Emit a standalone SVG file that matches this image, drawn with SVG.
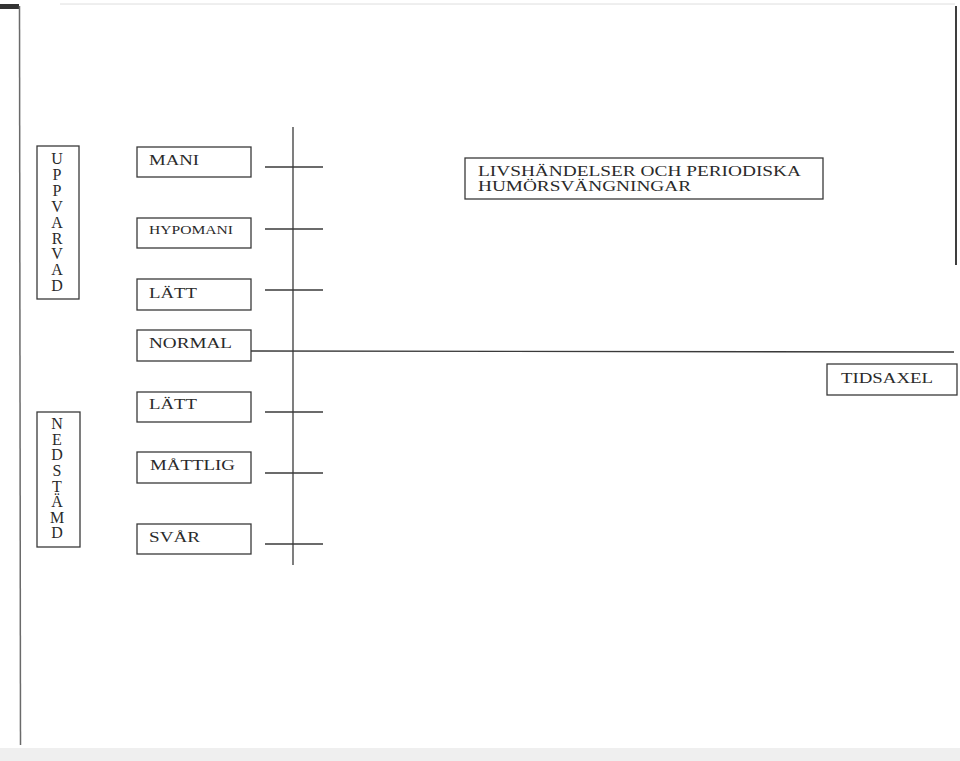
<svg xmlns="http://www.w3.org/2000/svg" width="960" height="761" viewBox="0 0 960 761">
<style>
.box{fill:#fff;stroke:#3a3a3a;stroke-width:1.3}
.ln{stroke:#3a3a3a;stroke-width:1.3;fill:none}
.t{font-family:"Liberation Serif","Times New Roman",serif;fill:#2a2a2a;font-size:15px}
.s{font-size:12.5px}
.v{text-anchor:middle;font-size:16px}
</style>
<rect width="960" height="761" fill="#fff"/>
<g id="page">
<rect x="0" y="748" width="960" height="13" fill="#efefef"/>
<rect x="0" y="4" width="19" height="5" fill="#333"/>
<line x1="60" y1="4" x2="955" y2="4" stroke="#dedede" stroke-width="1"/>
<line x1="19.5" y1="6" x2="20.5" y2="745" stroke="#6a6a6a" stroke-width="1.5"/>
<line x1="956" y1="6" x2="956" y2="265" stroke="#2a2a2a" stroke-width="1.8"/>
</g>
<g id="connectors">
<line class="ln" x1="293" y1="127" x2="293" y2="565"/>
<line class="ln" x1="265" y1="167" x2="323" y2="167"/>
<line class="ln" x1="265" y1="229" x2="323" y2="229"/>
<line class="ln" x1="265" y1="290" x2="323" y2="290"/>
<line class="ln" x1="251" y1="351" x2="954" y2="352"/>
<line class="ln" x1="265" y1="412" x2="323" y2="412"/>
<line class="ln" x1="265" y1="473" x2="323" y2="473"/>
<line class="ln" x1="265" y1="544" x2="323" y2="544"/>
</g>
<g id="uppvarvad">
<rect class="box" x="37" y="146" width="42" height="153"/>
<text class="t v" x="57" y="164">U</text>
<text class="t v" x="57" y="180">P</text>
<text class="t v" x="57" y="196">P</text>
<text class="t v" x="57" y="212">V</text>
<text class="t v" x="57" y="227.5">A</text>
<text class="t v" x="57" y="243.5">R</text>
<text class="t v" x="57" y="259">V</text>
<text class="t v" x="57" y="275">A</text>
<text class="t v" x="57" y="291">D</text>
</g>
<g id="nedstamd">
<rect class="box" x="37" y="412" width="43" height="135"/>
<text class="t v" x="57" y="429">N</text>
<text class="t v" x="57" y="444.5">E</text>
<text class="t v" x="57" y="460">D</text>
<text class="t v" x="57" y="476">S</text>
<text class="t v" x="57" y="491.5">T</text>
<text class="t v" x="57" y="507">Ä</text>
<text class="t v" x="57" y="522.5">M</text>
<text class="t v" x="57" y="538">D</text>
</g>
<g id="mani">
<rect class="box" x="137" y="147" width="114" height="30"/>
<text class="t" x="149" y="165" textLength="50" lengthAdjust="spacingAndGlyphs">MANI</text>
</g>
<g id="hypomani">
<rect class="box" x="137" y="218" width="114" height="30"/>
<text class="t s" x="149" y="234" textLength="84" lengthAdjust="spacingAndGlyphs">HYPOMANI</text>
</g>
<g id="latt-upp">
<rect class="box" x="137" y="279" width="114" height="31"/>
<text class="t" x="149" y="298" textLength="48" lengthAdjust="spacingAndGlyphs">LÄTT</text>
</g>
<g id="normal">
<rect class="box" x="137" y="330" width="114" height="31"/>
<text class="t" x="149" y="348" textLength="83" lengthAdjust="spacingAndGlyphs">NORMAL</text>
</g>
<g id="latt-ned">
<rect class="box" x="137" y="392" width="114" height="30"/>
<text class="t" x="149" y="409" textLength="48" lengthAdjust="spacingAndGlyphs">LÄTT</text>
</g>
<g id="mattlig">
<rect class="box" x="137" y="452" width="114" height="31"/>
<text class="t" x="150" y="470" textLength="85" lengthAdjust="spacingAndGlyphs">MÅTTLIG</text>
</g>
<g id="svar">
<rect class="box" x="137" y="524" width="114" height="30"/>
<text class="t" x="149" y="542" textLength="51" lengthAdjust="spacingAndGlyphs">SVÅR</text>
</g>
<g id="livshandelser">
<rect class="box" x="465" y="158" width="358" height="41"/>
<text class="t" x="478" y="176" textLength="323" lengthAdjust="spacingAndGlyphs">LIVSHÄNDELSER OCH PERIODISKA</text>
<text class="t" x="478" y="191" textLength="213" lengthAdjust="spacingAndGlyphs">HUMÖRSVÄNGNINGAR</text>
</g>
<g id="tidsaxel">
<rect class="box" x="827" y="364" width="130" height="31"/>
<text class="t" x="841" y="383" textLength="92" lengthAdjust="spacingAndGlyphs">TIDSAXEL</text>
</g>
</svg>
